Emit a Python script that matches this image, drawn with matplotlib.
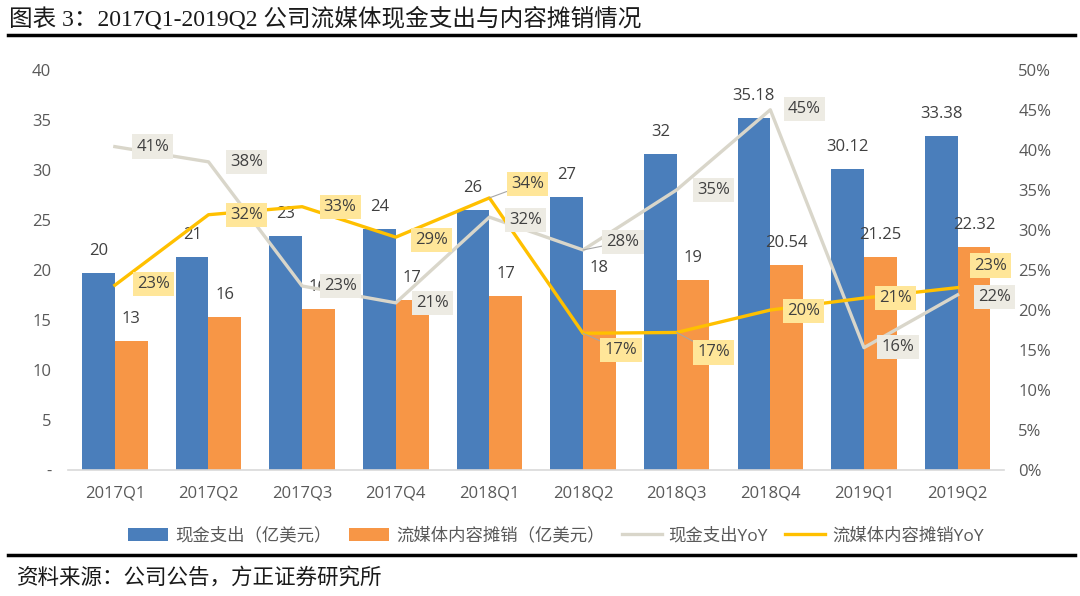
import numpy as np
import matplotlib
matplotlib.use('Agg')
import matplotlib.pyplot as plt

plt.rcParams['font.family'] = ['Open Sans', 'Noto Sans CJK SC', 'DejaVu Sans']

# data
quarters = ['2017Q1', '2017Q2', '2017Q3', '2017Q4', '2018Q1',
            '2018Q2', '2018Q3', '2018Q4', '2019Q1', '2019Q2']
cash = [19.7, 21.3, 23.4, 24.1, 26.0, 27.3, 31.6, 35.18, 30.12, 33.38]
cash_labels = ['20', '21', '23', '24', '26', '27', '32', '35.18', '30.12', '33.38']
amort = [12.9, 15.3, 16.1, 17.0, 17.4, 18.0, 19.0, 20.54, 21.25, 22.32]
amort_labels = ['13', '16', '16', '17', '17', '18', '19', '20.54', '21.25', '22.32']
cash_yoy = [40.4, 38.5, 23.0, 20.9, 31.6, 27.5, 35.0, 45.0, 15.3, 21.9]
cash_yoy_labels = ['41%', '38%', '23%', '21%', '32%', '28%', '35%', '45%', '16%', '22%']
amort_yoy = [23.1, 31.9, 32.9, 29.1, 34.0, 17.1, 17.2, 20.0, 21.5, 22.8]
amort_yoy_labels = ['23%', '32%', '33%', '29%', '34%', '17%', '17%', '20%', '21%', '23%']

# label offsets in pixels (dx, dy), and which labels get a leader line
cash_yoy_off = [(38, 0), (38, 0), (38, 0), (37, 0), (36, -3),
                (40, 8), (37, 0), (34, 1), (34, 1), (37, -2)]
cash_yoy_lead = [False] * 5 + [True] + [False] * 4
amort_yoy_off = [(39, 1), (38, 0), (38, 0), (36, -3), (38, 14),
                 (38, -17), (37, -20), (33, -1), (32, 0), (33, 22)]
amort_yoy_lead = [False] * 4 + [True, True, True] + [False] * 3

BLUE = '#4A7EBB'
ORANGE = '#F79646'
GREY = '#D9D6CA'
YELLOW = '#FFC000'
TXT = '#404040'
TICK = '#595959'
FS = 12

fig = plt.figure(figsize=(10.8, 5.96), dpi=100)
ax = fig.add_axes([0.063, 0.211, 0.867, 0.672])
x = np.arange(len(quarters))
w = 0.35

b1 = ax.bar(x - w / 2, cash, w, color=BLUE, label='现金支出（亿美元）', zorder=2)
b2 = ax.bar(x + w / 2, amort, w, color=ORANGE, label='流媒体内容摊销（亿美元）', zorder=2)
for bars, labels in [(b1, cash_labels), (b2, amort_labels)]:
    for rect, lab in zip(bars, labels):
        ax.annotate(lab, (rect.get_x() + rect.get_width() / 2, rect.get_height()),
                    xytext=(0, 22), textcoords='offset pixels', ha='center', va='center',
                    fontsize=FS, color=TXT)

ax.set_xlim(-0.5, len(quarters) - 0.5)
ax.set_ylim(0, 40)
ax.set_yticks(np.arange(0, 41, 5))
ax.set_yticklabels(['-'] + [str(v) for v in range(5, 41, 5)])
ax.set_xticks(x)
ax.set_xticklabels(quarters)
for s in ['top', 'right', 'left']:
    ax.spines[s].set_visible(False)
ax.spines['bottom'].set_color('#D9D9D9')
ax.spines['bottom'].set_linewidth(1.2)
ax.tick_params(axis='both', length=0, labelsize=FS, colors=TICK)
ax.tick_params(axis='x', pad=11)
ax.tick_params(axis='y', pad=12)

ax2 = ax.twinx()
l1, = ax2.plot(x, cash_yoy, color=GREY, lw=2.4, label='现金支出YoY', zorder=3)
l2, = ax2.plot(x, amort_yoy, color=YELLOW, lw=2.4, label='流媒体内容摊销YoY', zorder=3)
ax2.set_ylim(0, 50)
ax2.set_yticks(np.arange(0, 51, 5))
ax2.set_yticklabels([f'{v}%' for v in range(0, 51, 5)])
for s in ['top', 'right', 'left', 'bottom']:
    ax2.spines[s].set_visible(False)
ax2.tick_params(axis='y', length=0, labelsize=FS, colors=TICK, pad=10)

series = [(cash_yoy, cash_yoy_labels, cash_yoy_off, cash_yoy_lead, '#EDEBE3'),
          (amort_yoy, amort_yoy_labels, amort_yoy_off, amort_yoy_lead, '#FFE699')]
for vals, labels, offs, leads, fc in series:
    for xi, yi, lab, off, lead in zip(x, vals, labels, offs, leads):
        arrow = dict(arrowstyle='-', color='#A6A6A6', lw=0.8,
                     shrinkA=0, shrinkB=0) if lead else None
        ax2.annotate(lab, (xi, yi), xytext=off, textcoords='offset pixels',
                     ha='center', va='center', fontsize=FS, color=TXT, zorder=5,
                     arrowprops=arrow,
                     bbox=dict(boxstyle='square,pad=0.25', fc=fc, ec='none'))

fig.legend(handles=[b1, b2, l1, l2], loc='center', bbox_to_anchor=(0.515, 0.1),
           ncol=4, frameon=False, fontsize=12.5, labelcolor=TICK,
           handlelength=2.3, handleheight=0.8, columnspacing=1.0, handletextpad=0.4)

# title, rules and source note
fig.text(0.008, 0.968, '图表 3：2017Q1-2019Q2 公司流媒体现金支出与内容摊销情况',
         fontsize=17, va='center', ha='left', color='#1a1a1a',
         family=['Liberation Serif', 'Noto Sans CJK SC'])
fig.add_artist(plt.Line2D([0.007, 0.995], [0.941, 0.941], color='black', lw=2.5))
fig.add_artist(plt.Line2D([0.007, 0.995], [0.069, 0.069], color='black', lw=2.5))
fig.text(0.016, 0.03, '资料来源：公司公告，方正证券研究所', fontsize=15.5,
         va='center', ha='left', color='#1a1a1a', family=['Noto Sans CJK SC'])

fig.savefig('out.png', dpi=100)
